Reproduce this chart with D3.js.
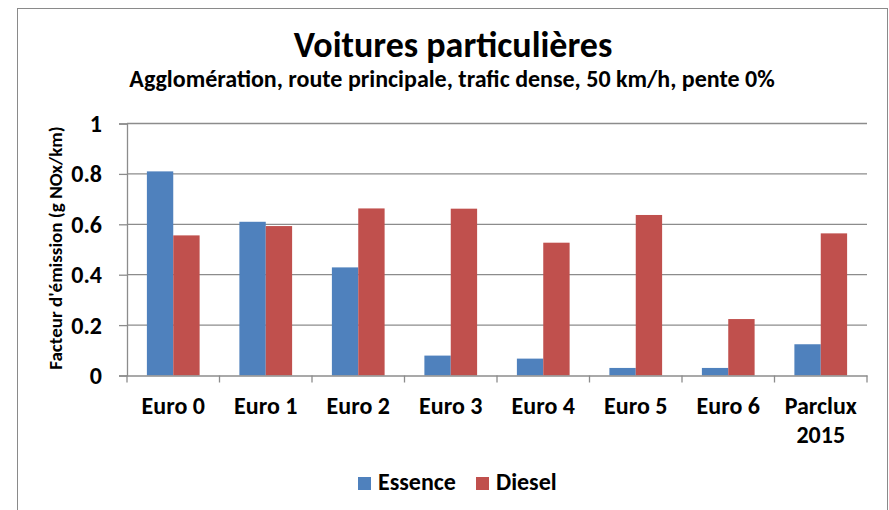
<!DOCTYPE html>
<html>
<head>
<meta charset="utf-8">
<script src="https://cdn.jsdelivr.net/npm/d3@7"></script>
<style>
  html, body { margin: 0; padding: 0; background: #fff; }
  svg { display: block; }
  text { font-family: Carlito, "Open Sans", Lato, sans-serif; font-weight: bold; fill: #000; }
</style>
</head>
<body>
<svg id="chart" width="889" height="510"></svg>
<script>
const categories = ["Euro 0", "Euro 1", "Euro 2", "Euro 3", "Euro 4", "Euro 5", "Euro 6", "Parclux 2015"];
const series = ["Essence", "Diesel"];
const essence = [0.81, 0.61, 0.429, 0.079, 0.067, 0.030, 0.030, 0.124];
const diesel  = [0.556, 0.593, 0.663, 0.662, 0.527, 0.637, 0.224, 0.564];
const yTicks = [0, 0.2, 0.4, 0.6, 0.8, 1];
const yTickLabels = ["0", "0.2", "0.4", "0.6", "0.8", "1"];
const colors = ["#4F81BD", "#C0504D"];
const title = "Voitures particulières";
const subtitle = "Agglomération, route principale, trafic dense, 50 km/h, pente 0%";
const yTitle = "Facteur d'émission (g NOx/km)";

const values = [essence, diesel];
const svg = d3.select("#chart");

// outer frame
svg.append("rect").attr("x", 17.5).attr("y", 8.5).attr("width", 870).attr("height", 520)
  .attr("fill", "#fff").attr("stroke", "#8a8a8a").attr("stroke-width", 1);

const pLeft = 127, pRight = 867, pTop = 123.5, pBottom = 375.5;
const x0 = d3.scaleBand().domain(categories).range([pLeft, pRight]).padding(0);
const bw = x0.bandwidth();
const x1 = d3.scaleBand().domain(series).range([bw * 0.215, bw * 0.785]).padding(0);
const y = d3.scaleLinear().domain([0, 1]).range([pBottom, pTop]);

const gridColor = "#8c8c8c";

// gridlines
svg.append("g").selectAll("line").data(yTicks.filter(d => d > 0)).join("line")
  .attr("x1", pLeft).attr("x2", pRight)
  .attr("y1", d => y(d)).attr("y2", d => y(d))
  .attr("stroke", gridColor).attr("stroke-width", 1.3);

// y axis
const yAxis = d3.axisLeft(y).tickValues(yTicks).tickSize(8).tickPadding(0)
  .tickFormat((d, i) => yTickLabels[i]);
const gy = svg.append("g").attr("transform", `translate(${pLeft},0)`).call(yAxis);
gy.select(".domain").attr("stroke", gridColor).attr("stroke-width", 1.3);
gy.selectAll(".tick line").attr("stroke", gridColor).attr("stroke-width", 1.3);
gy.selectAll(".tick text").attr("x", -25).attr("dy", "0.33em")
  .style("font-size", "24px").style("font-family", "Carlito, 'Open Sans', sans-serif").style("font-weight", "bold").attr("fill", "#000");

// bars
const groups = svg.append("g").selectAll("g").data(categories).join("g")
  .attr("transform", d => `translate(${x0(d)},0)`);
groups.selectAll("rect").data((d, i) => series.map((s, j) => ({ s, v: values[j][i], j }))).join("rect")
  .attr("x", d => x1(d.s)).attr("width", x1.bandwidth())
  .attr("y", d => y(d.v)).attr("height", d => y(0) - y(d.v))
  .attr("fill", d => colors[d.j]);

// x axis
const xAxis = d3.axisBottom(x0).tickSize(0).tickFormat("");
const gx = svg.append("g").attr("transform", `translate(0,${pBottom})`).call(xAxis);
gx.select(".domain").attr("stroke", gridColor).attr("stroke-width", 1.3);
// tick marks at band boundaries
svg.append("g").selectAll("line").data(categories.concat([null])).join("line")
  .attr("x1", (d, i) => i < categories.length ? x0(d) : pRight)
  .attr("x2", (d, i) => i < categories.length ? x0(d) : pRight)
  .attr("y1", pBottom).attr("y2", pBottom + 7)
  .attr("stroke", gridColor).attr("stroke-width", 1.3);

// x labels
const xl = svg.append("g").selectAll("text").data(categories).join("text")
  .attr("text-anchor", "middle")
  .attr("x", d => x0(d) + bw / 2)
  .attr("y", 414)
  .style("font-size", "24px");
xl.each(function (d) {
  const words = d === "Parclux 2015" ? ["Parclux", "2015"] : [d];
  const t = d3.select(this);
  words.forEach((w, k) => {
    t.append("tspan").attr("x", x0(d) + bw / 2).attr("dy", k === 0 ? 0 : 29).text(w);
  });
});

// titles
svg.append("text").attr("x", 453).attr("y", 57).attr("text-anchor", "middle")
  .style("font-size", "36px").text(title);
svg.append("text").attr("x", 452).attr("y", 87).attr("text-anchor", "middle")
  .style("font-size", "24px").text(subtitle);

// y title
svg.append("text").attr("transform", "translate(62,248) rotate(-90)")
  .attr("text-anchor", "middle").style("font-size", "19px").text(yTitle);

// legend
const legX = [358, 476];
const leg = svg.append("g").selectAll("g").data(series).join("g")
  .attr("transform", (d, i) => `translate(${legX[i]},477)`);
leg.append("rect").attr("width", 13).attr("height", 13).attr("fill", (d, i) => colors[i]);
leg.append("text").attr("x", 20).attr("y", 12.5).style("font-size", "24px").text(d => d);
</script>
</body>
</html>
